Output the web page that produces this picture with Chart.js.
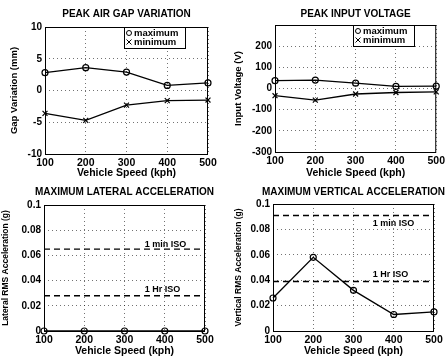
<!DOCTYPE html>
<html>
<head>
<meta charset="utf-8">
<script src="https://cdn.jsdelivr.net/npm/chart.js@4.4.1/dist/chart.umd.min.js"></script>
<style>
  html, body { margin: 0; padding: 0; background: #fff; }
  #wrap { position: relative; width: 448px; height: 356px; overflow: hidden; }
  canvas { position: absolute; }
</style>
</head>
<body>
<div id="wrap">
  <canvas id="gap" width="224" height="178" style="left:0;top:0"></canvas>
  <canvas id="volt" width="224" height="178" style="left:224px;top:0"></canvas>
  <canvas id="lat" width="224" height="178" style="left:0;top:178px"></canvas>
  <canvas id="vert" width="224" height="178" style="left:224px;top:178px"></canvas>
</div>
<script>
// values
const speeds = [100, 200, 300, 400, 500];
const gapMax = [2.8, 3.6, 2.9, 0.8, 1.2];
const gapMin = [-3.6, -4.7, -2.3, -1.6, -1.5];
const voltMax = [37, 40, 25, 10, 11];
const voltMin = [-34, -55, -26, -19, -16];
const latAccel = [0, 0, 0, 0, 0];
const vertAccel = [0.026, 0.058, 0.032, 0.013, 0.015];
const isoNames = ['1 min ISO', '1 Hr ISO'];
const isoLat = [0.065, 0.028];
const isoVert = [0.091, 0.039];
const legendNames = ['maximum', 'minimum'];
const xTitle = 'Vehicle Speed (kph)';

const FONT = '"Liberation Sans", Arial, Helvetica, sans-serif';
Chart.defaults.font.family = FONT;
Chart.defaults.color = '#000';

// draws box, title, legend and ISO labels the way matlab did
const frame = {
    id: 'frame',
    afterDatasetsDraw(chart, args, o) {
        const { ctx, chartArea: a, scales } = chart;
        ctx.save();
        ctx.strokeStyle = '#000';
        ctx.lineWidth = 1;
        ctx.strokeRect(a.left + 0.5, a.top + 0.5, a.right - a.left - 1, a.bottom - a.top);
        ctx.fillStyle = '#000';
        ctx.font = `bold 10px ${FONT}`;
        ctx.textAlign = 'center';
        ctx.textBaseline = 'middle';
        ctx.fillText(o.title, (a.left + a.right) / 2, 14);

        if (o.iso) {
            ctx.font = `bold 9px ${FONT}`;
            ctx.textAlign = 'left';
            o.iso.values.forEach((v, i) => {
                ctx.fillText(isoNames[i], scales.x.getPixelForValue(o.iso.x), scales.y.getPixelForValue(v) + o.iso.dy[i]);
            });
        }

        if (o.legend) {
            const lx = Math.round(a.right - o.legend.right), ly = Math.round(a.top), w = 61, h = 21;
            ctx.fillStyle = '#fff';
            ctx.fillRect(lx, ly, w, h);
            ctx.strokeRect(lx + 0.5, ly + 0.5, w, h);
            ctx.fillStyle = '#000';
            ctx.font = `bold 9.5px ${FONT}`;
            ctx.textAlign = 'left';
            legendNames.forEach((name, i) => {
                const y = ly + 6 + i * 9;
                const mx = lx + 5;
                ctx.beginPath();
                if (i == 0) {
                    ctx.arc(mx, y, 2.5, 0, Math.PI * 2);
                } else {
                    ctx.moveTo(mx - 2.5, y - 2.5); ctx.lineTo(mx + 2.5, y + 2.5);
                    ctx.moveTo(mx + 2.5, y - 2.5); ctx.lineTo(mx - 2.5, y + 2.5);
                }
                ctx.stroke();
                ctx.fillText(name, lx + 10, y);
            });
        }
        ctx.restore();
    }
};

function lineSet(label, values, style) {
    return {
        label: label,
        data: values.map((v, i) => ({ x: speeds[i], y: v })),
        borderColor: '#000',
        borderWidth: 1.3,
        pointStyle: style,
        pointRadius: style == 'crossRot' ? 3.5 : 3,
        pointBorderColor: '#000',
        pointBackgroundColor: 'rgba(0,0,0,0)',
        pointBorderWidth: 1.2,
        clip: false
    };
}

function isoSet(value) {
    return {
        data: [{ x: speeds[0], y: value }, { x: speeds[speeds.length - 1], y: value }],
        borderColor: '#000',
        borderWidth: 1.4,
        borderDash: [6, 4],
        pointRadius: 0
    };
}

const fmt = v => String(+Number(v).toFixed(3));

function makeChart(id, c) {
    return new Chart(document.getElementById(id), {
        type: 'line',
        data: { datasets: c.datasets },
        options: {
            responsive: false,
            animation: false,
            layout: { padding: { top: c.area.top, right: 224 - c.area.right, left: 0, bottom: 0 } },
            plugins: {
                legend: { display: false },
                tooltip: { enabled: false },
                title: { display: false },
                frame: c.frame
            },
            scales: {
                x: {
                    type: 'linear', min: 100, max: 500,
                    afterFit: s => { s.height = 178 - c.area.bottom; },
                    ticks: { stepSize: 100, padding: 3, maxRotation: 0, color: '#000', font: { size: 10.5, weight: 'bold' } },
                    grid: { color: 'rgba(0,0,0,0.55)', drawTicks: false },
                    border: { display: false, dash: [1, 3] },
                    title: { display: true, text: xTitle, color: '#000', padding: 0, font: { size: 10.5, weight: 'bold', lineHeight: 1 } }
                },
                y: {
                    type: 'linear', min: c.y.min, max: c.y.max,
                    afterFit: s => { s.width = c.area.left; },
                    ticks: { stepSize: c.y.step, padding: 3, color: '#000', font: { size: 10, weight: 'bold' }, callback: c.y.fmt || fmt },
                    grid: { color: 'rgba(0,0,0,0.55)', drawTicks: false },
                    border: { display: false, dash: [1, 3] },
                    title: { display: true, text: c.y.title, color: '#000', padding: { top: c.y.pad, bottom: 0 }, font: { size: c.y.size, weight: 'bold', lineHeight: 1 } }
                }
            }
        },
        plugins: [frame]
    });
}

makeChart('gap', {
    area: { left: 45, right: 208, top: 27, bottom: 154 },
    datasets: [lineSet(legendNames[0], gapMax, 'circle'), lineSet(legendNames[1], gapMin, 'crossRot')],
    y: { min: -10, max: 10, step: 5, title: 'Gap Variation (mm)', size: 9.5, pad: 10 },
    frame: { title: 'PEAK AIR GAP VARIATION', legend: { right: 84 } }
});

makeChart('volt', {
    area: { left: 51, right: 213, top: 25, bottom: 152 },
    datasets: [lineSet(legendNames[0], voltMax, 'circle'), lineSet(legendNames[1], voltMin, 'crossRot')],
    y: { min: -300, max: 300, step: 100, title: 'Input Voltage (V)', size: 9.5, pad: 10, fmt: v => v == 300 ? '' : fmt(v) },
    frame: { title: 'PEAK INPUT VOLTAGE', legend: { right: 83 } }
});

makeChart('lat', {
    area: { left: 44, right: 205, top: 27, bottom: 153 },
    datasets: [lineSet('lateral', latAccel, 'circle'), isoSet(isoLat[0]), isoSet(isoLat[1])],
    y: { min: 0, max: 0.1, step: 0.02, title: 'Lateral RMS Acceleration (g)', size: 8.5, pad: 1 },
    frame: { title: 'MAXIMUM LATERAL ACCELERATION', iso: { values: isoLat, x: 350, dy: [-5, -6] } }
});

makeChart('vert', {
    area: { left: 49, right: 210, top: 26, bottom: 153 },
    datasets: [lineSet('vertical', vertAccel, 'circle'), isoSet(isoVert[0]), isoSet(isoVert[1])],
    y: { min: 0, max: 0.1, step: 0.02, title: 'Vertical RMS Acceleration (g)', size: 8.5, pad: 10 },
    frame: { title: 'MAXIMUM VERTICAL ACCELERATION', iso: { values: isoVert, x: 348, dy: [8, -7] } }
});
</script>
</body>
</html>
